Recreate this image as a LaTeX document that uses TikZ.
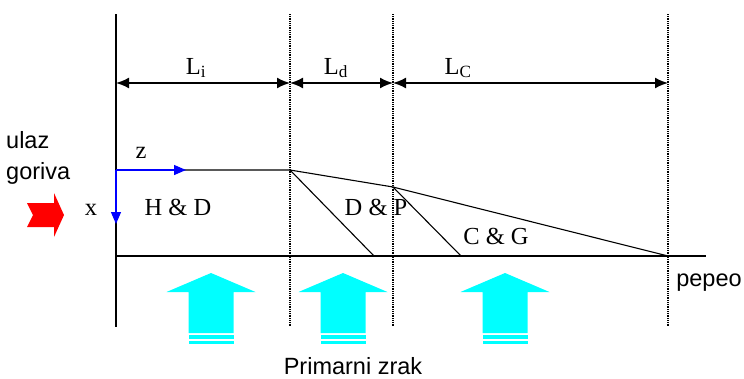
\documentclass[tikz,border=0pt]{standalone}
\usepackage{fontspec}
\setmainfont{Liberation Serif}
\newfontfamily\arialfont{Liberation Sans}
\usetikzlibrary{arrows.meta}

\definecolor{zrakboja}{RGB}{0,255,255}
\definecolor{gorivoboja}{RGB}{255,0,0}
\definecolor{osboja}{RGB}{0,0,255}

\tikzset{
  granica/.style={line width=1.2pt, dash pattern=on 1pt off 0.8pt},
  mjera/.style={line width=1.8pt, {Latex[length=13pt,width=11pt]}-{Latex[length=13pt,width=11pt]}},
  os/.style={osboja, line width=1.3pt, -{Triangle[length=12pt,width=10pt]}},
  zona/.style={font=\fontsize{24.5}{28}\selectfont},
  opis/.style={font=\arialfont\fontsize{23.5}{31}\selectfont}
}

\begin{document}
\begin{tikzpicture}[x=1pt, y=-1pt]
  \useasboundingbox (0,0) rectangle (744,378);

  % granice zona
  \coordinate (a0) at (116,14);  \coordinate (b0) at (116,327);
  \coordinate (a1) at (290,14);  \coordinate (b1) at (290,327);
  \coordinate (a2) at (393,14);  \coordinate (b2) at (393,327);
  \coordinate (a3) at (668,14);  \coordinate (b3) at (668,327);
  \draw[line width=1.5pt] (a0) -- (b0);
  \foreach \i in {1,2,3} \draw[granica] (a\i) -- (b\i);

  % duljine zona
  \coordinate (m0) at (116,83); \coordinate (m1) at (290,83);
  \coordinate (m2) at (393,83); \coordinate (m3) at (668,83);
  \draw[mjera] (m0) -- (m1);
  \draw[mjera] (m1) -- (m2);
  \draw[mjera] (m2) -- (m3);
  \node[zona] (li) at (196,68) {L\textsubscript{i}};
  \node[zona] (ld) at (336,68) {L\textsubscript{d}};
  \node[zona] (lc) at (458,68) {L\textsubscript{C}};

  % sloj goriva
  \coordinate (o) at (116,170);
  \coordinate (p1) at (290,170);
  \coordinate (p2) at (393,187);
  \coordinate (p3) at (668,256);
  \coordinate (d1) at (374,256);
  \coordinate (d2) at (461,256);
  \coordinate (r0) at (116,256);
  \coordinate (r1) at (706,256);
  \draw[line width=1.1pt] (o) -- (p1) -- (p2) -- (p3);
  \draw[line width=1.1pt] (p1) -- (d1);
  \draw[line width=1.1pt] (p2) -- (d2);
  \draw[line width=1.8pt] (r0) -- (r1);

  % osi
  \coordinate (zk) at (186,170);
  \coordinate (xk) at (116,224);
  \draw[os] (o) -- (zk);
  \draw[os] (o) -- (xk);
  \node[zona] (z) at (141,153) {z};
  \node[zona] (x) at (91,210) {x};

  \node[zona] (hd) at (178,207) {H \& D};
  \node[zona] (dp) at (376,207) {D \& P};
  \node[zona] (cg) at (496,236) {C \& G};

  % ulaz goriva
  \fill[gorivoboja] (27,203) -- (54,203) -- (54,193) -- (64,215) -- (54,237)
    -- (54,227) -- (27,227) -- (33,215) -- cycle;
  \node[opis, align=left, anchor=west, inner sep=0pt] (ulaz) at (6,158) {ulaz\\goriva};
  \node[opis] (pepeo) at (709,283) {pepeo};

  % primarni zrak
  \foreach \cx in {211,343,505} {
    \fill[zrakboja] (\cx-22.5,333) -- (\cx-22.5,292) -- (\cx-44.5,292) -- (\cx,273)
      -- (\cx+44.5,292) -- (\cx+22.5,292) -- (\cx+22.5,333) -- cycle;
    \fill[zrakboja] (\cx-22.5,334.7) rectangle (\cx+22.5,339.2);
    \fill[zrakboja] (\cx-22.5,340.7) rectangle (\cx+22.5,344);
  }
  \node[opis, inner sep=0pt] (zrak) at (353,366) {Primarni zrak};
\end{tikzpicture}
\end{document}
